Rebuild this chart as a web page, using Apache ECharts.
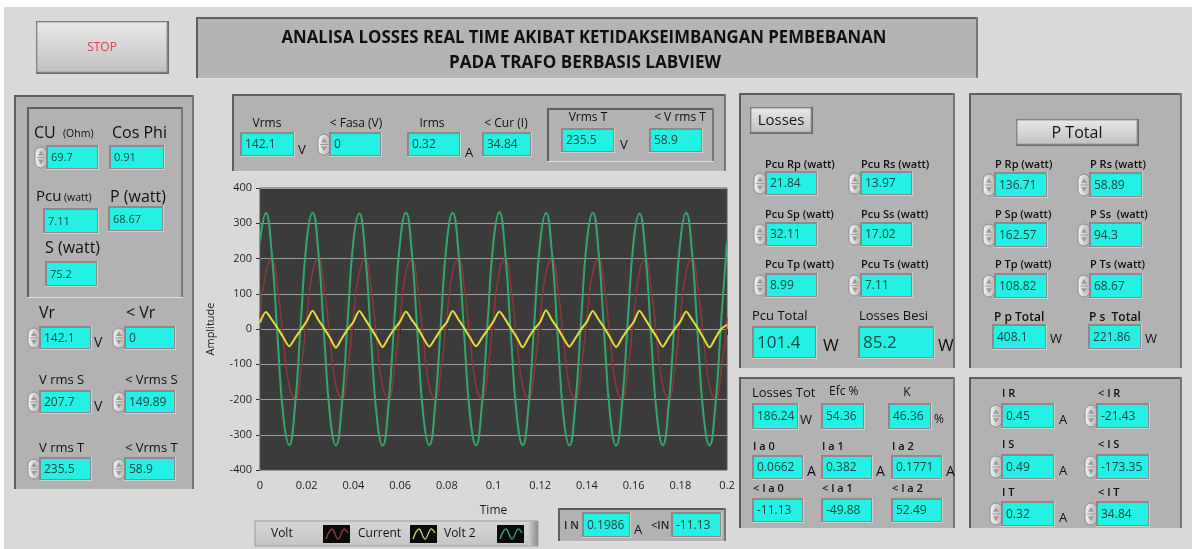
<!DOCTYPE html>
<html><head><meta charset="utf-8">
<script src="https://cdn.jsdelivr.net/npm/echarts@6/dist/echarts.min.js"></script>
<style>html,body{margin:0;padding:0;background:#fff}#c{width:1192px;height:549px}</style>
</head><body><div id="c"></div>
<script>
// ---------------- DATA ----------------
const titleLines = ['ANALISA LOSSES REAL TIME AKIBAT KETIDAKSEIMBANGAN PEMBEBANAN', 'PADA TRAFO BERBASIS LABVIEW'];
const stopLabel = 'STOP';
const cuLabels = ['CU', '(Ohm)', 'Cos Phi', 'Pcu', '(watt)', 'P (watt)', 'S (watt)'];
const cuValues = ['69.7', '0.91', '7.11', '68.67', '75.2'];
const phaseLabels = ['Vr', '< Vr', 'V rms S', '< Vrms S', 'V rms T', '< Vrms T'];
const phaseValues = ['142.1', '0', '207.7', '149.89', '235.5', '58.9'];
const topLabels = ['Vrms', '< Fasa (V)', 'Irms', '< Cur (I)', 'Vrms T', '< V rms T'];
const topValues = ['142.1', '0', '0.32', '34.84', '235.5', '58.9'];
const lossLabels = ['Pcu Rp (watt)', 'Pcu Rs (watt)', 'Pcu Sp (watt)', 'Pcu Ss (watt)', 'Pcu Tp (watt)', 'Pcu Ts (watt)'];
const lossValues = ['21.84', '13.97', '32.11', '17.02', '8.99', '7.11'];
const lossTotalLabels = ['Pcu Total', 'Losses Besi'];
const lossTotalValues = ['101.4', '85.2'];
const powerLabels = ['P Rp (watt)', 'P Rs (watt)', 'P Sp (watt)', 'P Ss  (watt)', 'P Tp (watt)', 'P Ts (watt)'];
const powerValues = ['136.71', '58.89', '162.57', '94.3', '108.82', '68.67'];
const powerTotalLabels = ['P p Total', 'P s  Total'];
const powerTotalValues = ['408.1', '221.86'];
const effLabels = ['Losses Tot', 'Efc %', 'K'];
const effValues = ['186.24', '54.36', '46.36'];
const seqLabels = ['I a 0', 'I a 1', 'I a 2', '< I a 0', '< I a 1', '< I a 2'];
const seqValues = ['0.0662', '0.382', '0.1771', '-11.13', '-49.88', '52.49'];
const currLabels = ['I R', '< I R', 'I S', '< I S', 'I T', '< I T'];
const currValues = ['0.45', '-21.43', '0.49', '-173.35', '0.32', '34.84'];
const neutralLabels = ['I N', '<IN'];
const neutralValues = ['0.1986', '-11.13'];
const legendNames = ['Volt', 'Current', 'Volt 2'];

const timeS = [0,0.0025,0.005,0.0075,0.01,0.0125,0.015,0.0175,0.02,0.0225,0.025,0.0275,0.03,0.0325,0.035,0.0375,0.04,0.0425,0.045,0.0475,0.05,0.0525,0.055,0.0575,0.06,0.0625,0.065,0.0675,0.07,0.0725,0.075,0.0775,0.08,0.0825,0.085,0.0875,0.09,0.0925,0.095,0.0975,0.1,0.1025,0.105,0.1075,0.11,0.1125,0.115,0.1175,0.12,0.1225,0.125,0.1275,0.13,0.1325,0.135,0.1375,0.14,0.1425,0.145,0.1475,0.15,0.1525,0.155,0.1575,0.16,0.1625,0.165,0.1675,0.17,0.1725,0.175,0.1775,0.18,0.1825,0.185,0.1875,0.19,0.1925,0.195,0.1975,0.2];
const volt = [31,162,198,118,-31,-162,-198,-118,
  30,163,199,117,-32,-161,-197,-119,
  32,161,198,118,-30,-163,-198,-117,
  31,162,197,119,-31,-162,-199,-118,
  30,163,198,117,-32,-161,-198,-119,
  31,162,199,118,-31,-162,-197,-118,
  32,161,198,119,-30,-163,-198,-117,
  31,162,197,118,-31,-162,-199,-118,
  30,163,198,117,-32,-161,-198,-119,
  31,162,199,118,-31,-162,-198,-118,
  31];
const current = [18,48,27,3,-24,-49,-26,-2,
  22,52,26,1,-25,-53,-27,-1,
  20,51,28,2,-24,-51,-25,0,
  21,50,26,3,-26,-50,-27,-1,
  19,51,27,2,-25,-49,-26,-2,
  22,50,28,1,-24,-52,-25,0,
  20,53,26,2,-26,-50,-27,-1,
  21,51,27,3,-25,-51,-26,-2,
  19,52,28,1,-24,-50,-25,-1,
  21,50,27,2,-26,-52,-26,0,
  12];
const volt2 = [248,329,218,-21,-248,-329,-218,21,
  250,330,217,-22,-247,-330,-219,20,
  249,328,218,-20,-248,-331,-218,22,
  248,330,219,-21,-249,-329,-217,21,
  247,329,218,-22,-248,-330,-218,20,
  249,331,217,-21,-247,-329,-219,21,
  248,329,218,-20,-249,-330,-218,22,
  250,330,218,-21,-248,-331,-217,21,
  248,328,219,-22,-247,-329,-218,20,
  249,330,218,-21,-248,-330,-219,21,
  248];

// ---------------- DRAW HELPERS ----------------
const FONT = "'Open Sans','Noto Sans',sans-serif";
const CYAN = '#24f0e3';
const G = [];
const mctx = document.createElement('canvas').getContext('2d');
function fit(str, font, target) { mctx.font = font; return target / mctx.measureText(str).width; }
function rect(x, y, w, h, style, r) {
  G.push({ type: 'rect', silent: true, shape: { x: x, y: y, width: w, height: h, r: r || 0 }, style: style });
}
function line(x1, y1, x2, y2, color, w) {
  G.push({ type: 'line', silent: true, shape: { x1: x1, y1: y1, x2: x2, y2: y2 }, style: { stroke: color, lineWidth: w || 1 } });
}
function poly(pts, fill) {
  G.push({ type: 'polygon', silent: true, shape: { points: pts }, style: { fill: fill } });
}
function text(x, y, str, size, opt) {
  opt = opt || {};
  const font = (opt.weight || 'normal') + ' ' + size + 'px ' + FONT;
  let sx = opt.sx || 1;
  if (opt.width) sx = fit(str, font, opt.width);
  G.push({ type: 'text', silent: true, x: x, y: y, scaleX: sx,
    style: { text: str, font: font, fill: opt.color || '#101010', textAlign: opt.align || 'left', textVerticalAlign: 'middle' } });
}
function lab(x, y, str, size, opt) { opt = Object.assign({ weight: 600 }, opt || {}); text(x, y, str, size, opt); }
function vgrad(a, b) { return { type: 'linear', x: 0, y: 0, x2: 0, y2: 1, colorStops: [{ offset: 0, color: a }, { offset: 1, color: b }] }; }
function hgrad(a, b) { return { type: 'linear', x: 0, y: 0, x2: 1, y2: 0, colorStops: [{ offset: 0, color: a }, { offset: 1, color: b }] }; }
function panel(x, y, w, h, fill) {
  rect(x, y, w, h, { fill: fill || '#b2b2b2' });
  frame(x, y, w, h);
}
function frame(x, y, w, h) {
  line(x, y + 1, x + w, y + 1, '#5e5e5e', 2);
  line(x + 1, y, x + 1, y + h, '#5e5e5e', 2);
  line(x + w - 1, y, x + w - 1, y + h, '#767676', 2);
  line(x, y + h - 0.5, x + w, y + h - 0.5, '#dedede', 1);
}
function field(x, y, w, h, val, size) {
  rect(x - 2, y - 2, w + 4, h + 4, { fill: '#8a8a8a' });
  line(x - 2, y + h + 1.5, x + w + 2, y + h + 1.5, '#cfcfcf', 1);
  line(x + w + 1.5, y - 2, x + w + 1.5, y + h + 2, '#cfcfcf', 1);
  rect(x, y, w, h, { fill: CYAN });
  text(x + 3, y + h / 2 + 0.5, val, size || 12, { color: '#154a44' });
}
function spinner(x, y, h) {
  rect(x, y, 12, h, { fill: hgrad('#f6f6f6', '#b3b3b3'), stroke: '#8c8c8c', lineWidth: 1 }, 6);
  line(x + 2, y + h / 2, x + 10, y + h / 2, '#9c9c9c', 1);
  poly([[x + 6, y + h * 0.18], [x + 3, y + h * 0.4], [x + 9, y + h * 0.4]], '#9a9a9a');
  poly([[x + 6, y + h * 0.82], [x + 3, y + h * 0.6], [x + 9, y + h * 0.6]], '#9a9a9a');
}
function button(x, y, w, h, label, size, color) {
  rect(x - 1, y - 1, w + 3, h + 3, { fill: '#6a6a6a' });
  rect(x, y, w, h, { fill: vgrad('#e9e9e9', '#c0c0c0'), stroke: '#9a9a9a', lineWidth: 1 });
  text(x + w / 2, y + h / 2 + 1, label, size, { align: 'center', color: color || '#151515' });
}

// ---------------- LAYOUT ----------------
rect(0, 0, 1192, 7, { fill: '#ffffff' });
rect(0, 0, 4, 549, { fill: '#ffffff' });

button(37, 22, 130, 50, stopLabel, 12, '#e0443e');

panel(196, 17, 782, 62, '#b4b4b4');
text(584, 38, titleLines[0], 18, { weight: 'bold', align: 'center', width: 605 });
text(585, 63, titleLines[1], 18, { weight: 'bold', align: 'center', width: 272 });

// Left panel
panel(14, 95, 180, 395);
frame(27, 107, 156, 191);
text(34, 133, cuLabels[0], 16);
text(63, 134.5, cuLabels[1], 10.5);
text(112, 133, cuLabels[2], 16);
spinner(35, 147, 21); field(48, 147, 49, 21, cuValues[0], 11);
field(111, 147, 52, 21, cuValues[1], 11);
text(36, 197, cuLabels[3], 15);
text(64, 198.5, cuLabels[4], 10.5);
text(110, 197, cuLabels[5], 16);
field(45, 210, 52, 22, cuValues[2], 11);
field(110, 208, 52, 22, cuValues[3], 11);
text(45, 248, cuLabels[6], 16);
field(47, 263, 49, 22, cuValues[4], 11);

text(39, 313, phaseLabels[0], 16);
text(126, 313, phaseLabels[1], 16);
text(39, 380, phaseLabels[2], 13);
text(125, 380, phaseLabels[3], 13);
text(39, 448, phaseLabels[4], 13);
text(125, 448, phaseLabels[5], 13);
const phaseRows = [328, 392, 459];
phaseRows.forEach(function (ry, i) {
  spinner(28, ry, 20); field(41, ry, 49, 20, phaseValues[2 * i], 12);
  spinner(113, ry, 20); field(126, ry, 48, 20, phaseValues[2 * i + 1], 12);
});
text(94, 343, 'V', 14);
text(94, 407, 'V', 14);

// Panel above the chart
panel(232, 94, 494, 78);
frame(547, 108, 167, 54);
text(267, 124, topLabels[0], 12, { align: 'center' });
field(242, 134, 51, 21, topValues[0], 12);
text(298, 150, 'V', 13);
text(356, 124, topLabels[1], 12, { align: 'center' });
spinner(318, 134, 21); field(331, 134, 49, 21, topValues[1], 12);
text(432, 124, topLabels[2], 12, { align: 'center' });
field(409, 134, 50, 21, topValues[2], 12);
text(465, 153, 'A', 13);
text(506, 124, topLabels[3], 12, { align: 'center' });
field(484, 134, 46, 21, topValues[3], 12);
text(588, 118, topLabels[4], 12, { align: 'center' });
field(563, 130, 50, 21, topValues[4], 12);
text(620, 145, 'V', 13);
text(680, 118, topLabels[5], 12, { align: 'center' });
field(651, 130, 50, 21, topValues[5], 12);

// Legend under chart
rect(255, 521, 283, 25, { fill: vgrad('#d6d6d6', '#c4c4c4'), stroke: '#9c9c9c', lineWidth: 1 });
rect(529, 521, 9, 25, { fill: hgrad('#c8c8c8', '#8e8e8e') });
const legendColors = ['#a03c3c', '#c9d66a', '#3aa870'];
const legendX = [[271, 323], [358, 410], [444, 497]];
legendNames.forEach(function (n, i) {
  text(legendX[i][0], 534, n, 12);
  const ix = legendX[i][1];
  rect(ix, 525, 27, 18, { fill: '#0a0a0a' });
  G.push({ type: 'polyline', silent: true, shape: { points: [[ix + 3, 539], [ix + 9, 529], [ix + 15, 539], [ix + 21, 529], [ix + 25, 533]], smooth: 0.4 },
    style: { stroke: legendColors[i], lineWidth: 1.3, fill: null } });
});

// Neutral current box
panel(558, 508, 168, 34);
lab(564, 526, neutralLabels[0], 11, { color: '#222' });
field(584, 514, 45, 22, neutralValues[0], 12);
text(634, 530, 'A', 13);
lab(651, 526, neutralLabels[1], 11, { color: '#222' });
field(673, 514, 47, 22, neutralValues[1], 12);

// Losses panel
panel(739, 93, 216, 276);
button(751, 108, 60, 24, 'Losses', 15);
const lossRowY = [173, 224, 275];
const lossLabY = [165, 215, 265];
lossRowY.forEach(function (ry, i) {
  lab(765, lossLabY[i], lossLabels[2 * i], 11);
  lab(861, lossLabY[i], lossLabels[2 * i + 1], 11);
  spinner(754, ry, 21); field(767, ry, 49, 21, lossValues[2 * i], 12);
  spinner(849, ry, 21); field(862, ry, 49, 21, lossValues[2 * i + 1], 12);
});
text(752, 316, lossTotalLabels[0], 13);
text(859, 316, lossTotalLabels[1], 13);
field(754, 328, 61, 29, lossTotalValues[0], 17);
text(823, 346, 'W', 17);
field(860, 328, 73, 29, lossTotalValues[1], 17);
text(938, 346, 'W', 17);

// P Total panel
panel(969, 93, 213, 276);
button(1017, 120, 120, 24, 'P Total', 16);
const powRowY = [174, 224, 275];
powRowY.forEach(function (ry, i) {
  lab(995, lossLabY[i], powerLabels[2 * i], 11);
  lab(1090, lossLabY[i], powerLabels[2 * i + 1], 11);
  spinner(983, ry, 22); field(996, ry, 50, 22, powerValues[2 * i], 12);
  spinner(1078, ry, 22); field(1091, ry, 50, 22, powerValues[2 * i + 1], 12);
});
lab(994, 318, powerTotalLabels[0], 12);
lab(1089, 318, powerTotalLabels[1], 12);
field(994, 326, 51, 22, powerTotalValues[0], 12);
text(1050, 339, 'W', 13);
field(1090, 326, 50, 22, powerTotalValues[1], 12);
text(1145, 339, 'W', 13);

// Losses Tot / sequence panel
panel(739, 377, 216, 152);
text(752, 393, effLabels[0], 13);
text(829, 392, effLabels[1], 12);
text(907, 393, effLabels[2], 12, { align: 'center' });
field(754, 405, 43, 23, effValues[0], 12);
text(800, 420, 'W', 13);
field(823, 405, 40, 23, effValues[1], 12);
field(890, 405, 40, 23, effValues[2], 12);
text(934, 420, '%', 12);
const seqX = [753, 822, 892];
seqX.forEach(function (sx, i) {
  lab(sx, 447, seqLabels[i], 11);
  field(sx + 1, 457, 48, 21, seqValues[i], 12);
  text(sx + 54, 472, 'A', 14);
  lab(sx, 489, seqLabels[i + 3], 11);
  field(sx + 1, 500, 48, 21, seqValues[i + 3], 12);
});

// Current panel
panel(969, 377, 213, 152);
const curRowY = [405, 456, 503];
const curLabY = [394, 445, 493];
curRowY.forEach(function (ry, i) {
  lab(1002, curLabY[i], currLabels[2 * i], 11);
  lab(1098, curLabY[i], currLabels[2 * i + 1], 11);
  spinner(990, ry, 22); field(1003, ry, 50, 22, currValues[2 * i], 12);
  text(1059, ry + 15, 'A', 13);
  spinner(1085, ry, 22); field(1098, ry, 50, 22, currValues[2 * i + 1], 12);
});

// ---------------- CHART ----------------
function pairs(vals) { return timeS.map(function (t, i) { return [t, vals[i]]; }); }
const axisFont = { color: '#1d1d1d', fontSize: 11, fontFamily: FONT };
const chart = echarts.init(document.getElementById('c'), null, { renderer: 'canvas' });
chart.setOption({
  backgroundColor: '#d9d9d9',
  animation: false,
  graphic: { elements: G },
  grid: { left: 260, top: 188, width: 467, height: 282, show: true, backgroundColor: '#3b3b3b', borderColor: '#555', borderWidth: 1 },
  xAxis: {
    type: 'value', min: 0, max: 0.2, interval: 0.02,
    axisLine: { show: false },
    axisTick: { show: true, length: 6, lineStyle: { color: '#333' } },
    axisLabel: Object.assign({ margin: 10 }, axisFont),
    splitLine: { show: false },
    name: 'Time', nameLocation: 'middle', nameGap: 35,
    nameTextStyle: { color: '#1d1d1d', fontSize: 12, fontFamily: FONT }
  },
  yAxis: {
    type: 'value', min: -400, max: 400, interval: 100,
    axisLine: { show: false },
    axisTick: { show: true, length: 4, lineStyle: { color: '#333' } },
    axisLabel: Object.assign({ margin: 8 }, axisFont),
    splitLine: { show: true, lineStyle: { color: '#9b9b9b', width: 1 } },
    name: 'Amplitude', nameLocation: 'middle', nameGap: 44, nameRotate: 90,
    nameTextStyle: { color: '#1d1d1d', fontSize: 11, fontFamily: FONT }
  },
  series: [
    { name: legendNames[0], type: 'line', data: pairs(volt), showSymbol: false, smooth: 0.5, lineStyle: { color: '#8f3737', width: 1.5 }, z: 2 },
    { name: legendNames[2], type: 'line', data: pairs(volt2), showSymbol: false, smooth: 0.5, lineStyle: { color: '#35a56c', width: 2 }, z: 3 },
    { name: legendNames[1], type: 'line', data: pairs(current), showSymbol: false, smooth: 0.25, lineStyle: { color: '#e3df3a', width: 2 }, z: 4 }
  ]
});
</script></body></html>
